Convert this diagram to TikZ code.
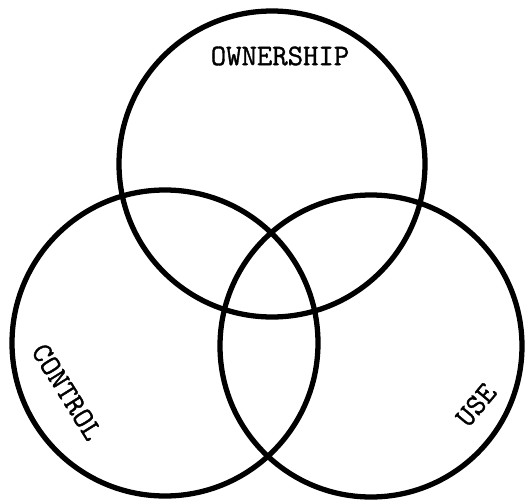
\documentclass[tikz,border=0pt]{standalone}
\usepackage{fontspec}
\usepackage{tikz}
\usetikzlibrary{positioning}
\newfontfamily\labelfont[FakeBold=1.2]{Latin Modern Mono}
\tikzset{
  ring/.style={line width=3pt,black},
  setlabel/.style={font=\labelfont\bfseries\fontsize{17}{20}\selectfont,inner sep=0pt}
}

\begin{document}
\begin{tikzpicture}[x=0.02cm,y=-0.02cm]
\useasboundingbox (0,0) rectangle (525,504);
\coordinate (own) at (272,164);
\coordinate (ctl) at (165,343);
\coordinate (use) at (371,346);
\draw[ring] (own) circle (153);
\draw[ring] (ctl) circle (153);
\draw[ring] (use) circle (151);
\node[setlabel] (ownlabel) at (280,56) {OWNERSHIP};
\node[setlabel,rotate=-58] (ctllabel) at (67,392) {CONTROL};
\node[setlabel,rotate=50] (uselabel) at (476,405) {USE};
\end{tikzpicture}
\end{document}
